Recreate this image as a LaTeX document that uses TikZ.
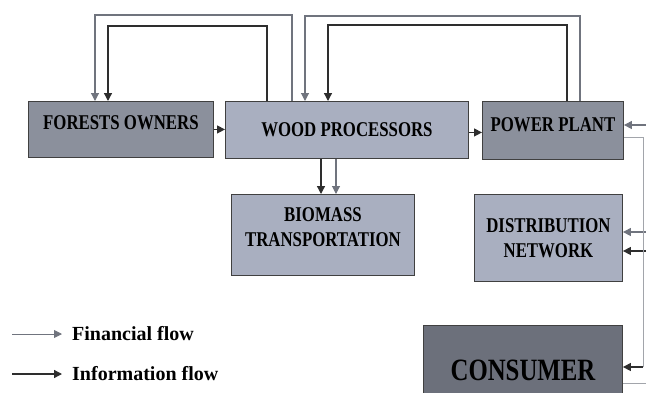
\documentclass[tikz,border=0pt]{standalone}
\usepackage{fontspec}
\setmainfont{Liberation Serif}
\newfontfamily\boxfont[FakeStretch=0.8]{Liberation Serif}
\usepackage{tikz}
\usetikzlibrary{arrows.meta,positioning,calc}
\definecolor{lightbox}{HTML}{A9AFC0}
\definecolor{midbox}{HTML}{8B909C}
\definecolor{darkbox}{HTML}{6C707B}
\definecolor{finclr}{HTML}{70747E}
\definecolor{infoclr}{HTML}{2E2E2E}

\begin{document}
\begin{tikzpicture}[
  x=1pt, y=-1pt,
  block/.style={
    rectangle, draw=black!75, line width=0.9pt, anchor=north west,
    inner sep=0pt, align=center,
    font=\boxfont\bfseries\fontsize{21}{25}\selectfont
  },
  lightblock/.style={block, fill=lightbox},
  midblock/.style={block, fill=midbox},
  fin/.style={-{Triangle[length=8pt,width=8pt]}, finclr, line width=1.1pt},
  info/.style={-{Triangle[length=8pt,width=8pt]}, infoclr, line width=1.3pt},
  finline/.style={finclr!65, line width=1pt},
  legend/.style={
    anchor=west, inner xsep=10pt, inner ysep=0pt,
    font=\bfseries\fontsize{20}{24}\selectfont
  },
]
\useasboundingbox (0,0) rectangle (646,392);

% ── Nodes ──
\node[midblock, minimum width=185pt, minimum height=56pt, text depth=14pt]
  (forests) at (28,101) {FORESTS OWNERS};
\node[lightblock, minimum width=243pt, minimum height=57pt]
  (wood) at (225,101) {WOOD PROCESSORS};
\node[midblock, minimum width=141pt, minimum height=58pt, text depth=12pt]
  (power) at (482,101) {POWER PLANT};
\node[lightblock, minimum width=183pt, minimum height=81pt, text depth=16pt]
  (biomass) at (231,194) {BIOMASS\\TRANSPORTATION};
\node[lightblock, minimum width=148pt, minimum height=87pt]
  (distrib) at (474,194) {DISTRIBUTION\\NETWORK};
\node[block, fill=darkbox, minimum width=199pt, minimum height=90pt,
  font=\boxfont\bfseries\fontsize{31}{35}\selectfont]
  (consumer) at (423,325) {CONSUMER};

% ── Legend ──
\node[legend] (finlab) at (62,334) {Financial flow};
\node[legend] (infolab) at (62,374) {Information flow};
\coordinate (finstart) at (12,334);
\coordinate (infostart) at (12,374);
\draw[fin, line width=0.9pt] (finstart) -- (finlab);
\draw[info] (infostart) -- (infolab);

% ── Edges ──
% loops over the top
\draw[fin] ($(wood.north west)+(67,0)$) -- ++(0,-86) -| ($(forests.north west)+(67,0)$);
\draw[info] ($(wood.north west)+(42,0)$) -- ++(0,-75) -| ($(forests.north west)+(80,0)$);
\draw[fin] ($(power.north west)+(98,0)$) -- ++(0,-85) -| ($(wood.north west)+(80,0)$);
\draw[info] ($(power.north west)+(85,0)$) -- ++(0,-76) -| ($(wood.north west)+(103,0)$);

% along the row
\draw[info] (forests.east) -- (forests.east -| wood.west);
\coordinate (wp) at ($(wood.east)+(0,2.5)$);
\draw[info] (wp) -- (wp -| power.west);

% down to transport
\coordinate (dn1) at ($(wood.south west)+(96,0)$);
\coordinate (dn2) at ($(wood.south west)+(111,0)$);
\draw[info] (dn1) -- (dn1 |- biomass.north);
\draw[fin] (dn2) -- (dn2 |- biomass.north);

% right side
\coordinate (ppin) at (646,125);
\coordinate (dnin1) at (646,232);
\coordinate (dnin2) at (646,251);
\coordinate (cin) at (643,367);
\coordinate (cout) at (646,383);
\draw[fin] (ppin) -- (ppin -| power.east);
\draw[fin] (dnin1) -- (dnin1 -| distrib.east);
\draw[info] (dnin2) -- (dnin2 -| distrib.east);
\draw[finline] ($(power.south east)+(0,-22)$) -| (cin);
\draw[info] (cin) -- (cin -| consumer.east);
\draw[finline] (cout -| consumer.east) -- (cout);
\end{tikzpicture}
\end{document}
